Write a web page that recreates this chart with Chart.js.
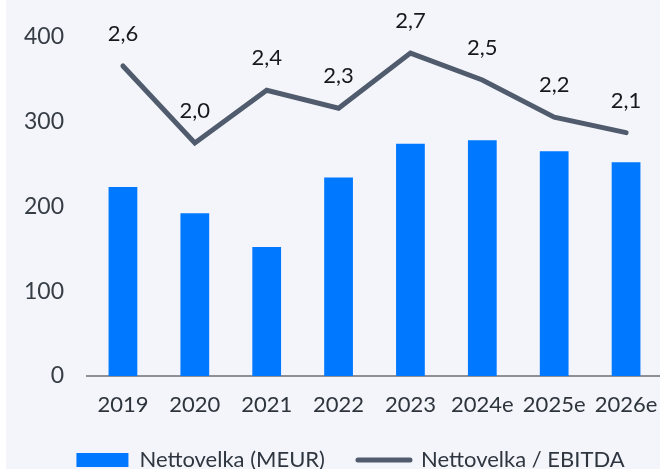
<!DOCTYPE html>
<html>
<head>
<meta charset="utf-8">
<script src="https://cdn.jsdelivr.net/npm/chart.js@4/dist/chart.umd.min.js"></script>
<style>
  html, body { margin: 0; padding: 0; overflow: hidden; background: #ffffff; width: 660px; height: 469px; }
  #panel { position: absolute; left: 6px; top: 0; width: 680px; height: 481px; background: #f3f5fa; }
  canvas { display: block; }
</style>
</head>
<body>
<div id="panel"><canvas id="chart" width="680" height="481"></canvas></div>
<script>
// Vuodet ja sarjat
const years = ['2019', '2020', '2021', '2022', '2023', '2024e', '2025e', '2026e'];
const netDebt = [223, 192, 152, 234, 274, 278, 265, 252];              // Nettovelka (MEUR)
const debtToEbitda = [2.60, 2.00, 2.41, 2.27, 2.70, 2.49, 2.20, 2.08]; // Nettovelka / EBITDA
const leftTicks = [0, 100, 200, 300, 400];

const FONT = 'Lato, "Open Sans", sans-serif';
const fmt = v => v.toFixed(1).replace('.', ',');

// Arvotekstit viivan pisteiden yläpuolelle
const lineValueLabels = {
  id: 'lineValueLabels',
  afterDatasetsDraw(chart) {
    const ctx = chart.ctx;
    chart.data.datasets.forEach((ds, i) => {
      if (ds.type !== 'line') return;
      const meta = chart.getDatasetMeta(i);
      ctx.save();
      ctx.font = '22px ' + FONT;
      ctx.fillStyle = '#16181c';
      ctx.textAlign = 'center';
      ctx.textBaseline = 'middle';
      meta.data.forEach((pt, j) => {
        ctx.fillText(fmt(ds.data[j]), pt.x, pt.y - 32);
      });
      ctx.restore();
    });
  }
};

new Chart(document.getElementById('chart'), {
  data: {
    labels: years,
    datasets: [
      {
        type: 'bar',
        label: 'Nettovelka (MEUR)',
        data: netDebt,
        backgroundColor: '#0078ff',
        borderWidth: 0,
        barPercentage: 0.4,
        categoryPercentage: 1.0,
        yAxisID: 'y'
      },
      {
        type: 'line',
        label: 'Nettovelka / EBITDA',
        data: debtToEbitda,
        borderColor: '#505b6d',
        backgroundColor: '#505b6d',
        borderWidth: 5,
        pointRadius: 0,
        borderCapStyle: 'round',
        tension: 0,
        yAxisID: 'y1'
      }
    ]
  },
  options: {
    responsive: false,
    animation: false,
    layout: { padding: { top: 36, left: 17, right: 8, bottom: 0 } },
    scales: {
      x: {
        offset: true,
        grid: { display: false, drawTicks: false, drawOnChartArea: false },
        border: { display: true, color: '#8c9199', width: 2 },
        ticks: { color: '#2e343c', font: { family: FONT, size: 22 }, padding: 16, maxRotation: 0, autoSkip: false },
        afterFit(scale) { scale.height = 40; }
      },
      y: {
        position: 'left',
        min: 0,
        max: 400,
        afterBuildTicks(scale) { scale.ticks = leftTicks.map(v => ({ value: v })); },
        grid: { display: false, drawTicks: false },
        border: { display: false },
        ticks: { color: '#373d45', font: { family: FONT, size: 23 }, padding: 23 },
        afterFit(scale) { scale.width = 64; }
      },
      y1: {
        position: 'right',
        display: true,
        min: 0.183,
        max: 2.827,
        grid: { display: false, drawTicks: false },
        border: { display: false },
        ticks: { display: false },
        afterFit(scale) { scale.width = 16; }
      }
    },
    plugins: {
      tooltip: { enabled: false },
      legend: {
        position: 'bottom',
        align: 'center',
        labels: {
          color: '#2f3640',
          font: { family: FONT, size: 22 },
          padding: 33,
          usePointStyle: true,
          pointStyleWidth: 52,
          boxHeight: 14,
          generateLabels(chart) {
            const items = Chart.defaults.plugins.legend.labels.generateLabels(chart);
            items.forEach(it => {
              const ds = chart.data.datasets[it.datasetIndex];
              if (ds.type === 'line') {
                it.pointStyle = 'line';
                it.lineCap = 'round';
                it.lineWidth = 5;
                it.strokeStyle = ds.borderColor;
              } else {
                it.pointStyle = 'rect';
                it.lineWidth = 0;
                it.fillStyle = ds.backgroundColor;
              }
            });
            return items;
          }
        }
      }
    }
  },
  plugins: [lineValueLabels]
});
</script>
</body>
</html>
